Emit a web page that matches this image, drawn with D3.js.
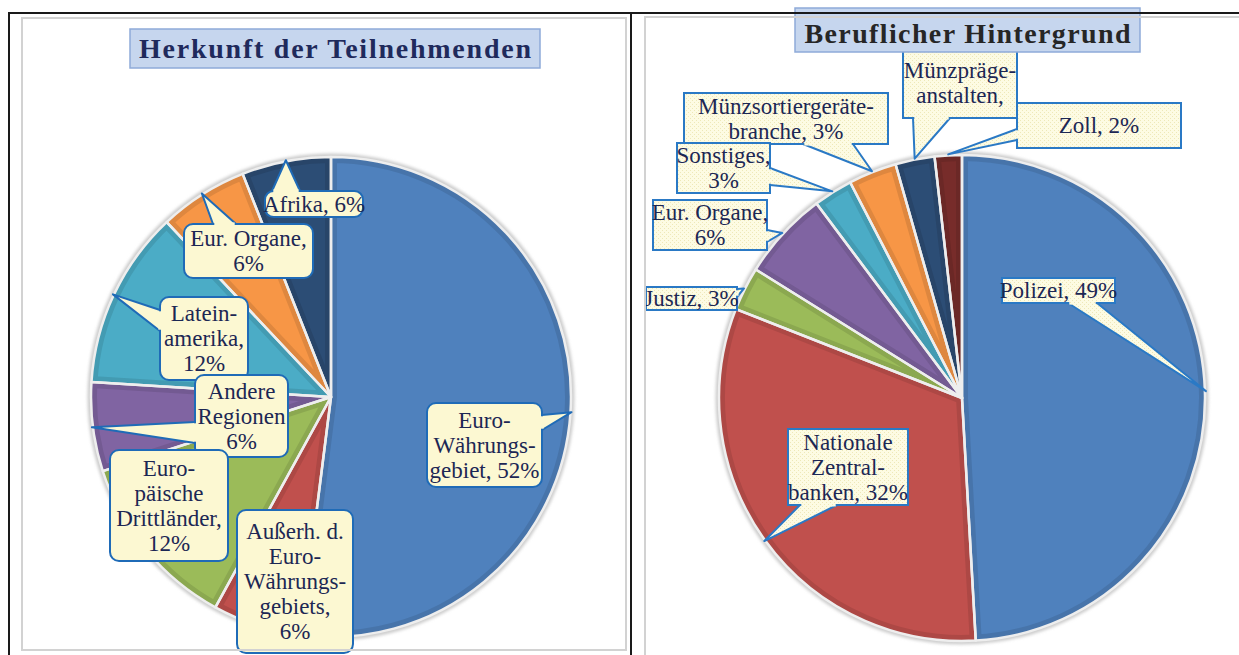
<!DOCTYPE html>
<html>
<head>
<meta charset="utf-8">
<script src="https://cdn.jsdelivr.net/npm/d3@7"></script>
<style>
html, body { margin: 0; padding: 0; background: #fff; }
svg { display: block; }
text { font-family: "Liberation Serif", "Times New Roman", serif; }
</style>
</head>
<body>
<div id="chart"></div>
<script>
// left chart: Herkunft der Teilnehmenden
const originCategories = ["Euro-Währungsgebiet", "Außerh. d. Euro-Währungsgebiets", "Europäische Drittländer",
    "Andere Regionen", "Lateinamerika", "Eur. Organe", "Afrika"];
const originValues = [52, 6, 12, 6, 12, 6, 6];
const originLabels = [
    ["Euro-", "Währungs-", "gebiet, 52%"],
    ["Außerh. d.", "Euro-", "Währungs-", "gebiets,", "6%"],
    ["Euro-", "päische", "Drittländer,", "12%"],
    ["Andere", "Regionen", "6%"],
    ["Latein-", "amerika,", "12%"],
    ["Eur. Organe,", "6%"],
    ["Afrika, 6%"]
];

// right chart: Beruflicher Hintergrund
const jobCategories = ["Polizei", "Nationale Zentralbanken", "Justiz", "Eur. Organe", "Sonstiges",
    "Münzsortiergerätebranche", "Münzprägeanstalten", "Zoll"];
const jobValues = [49, 31.8, 2.9, 5.9, 2.6, 3.2, 2.6, 1.8];
const jobLabels = [
    ["Polizei, 49%"],
    ["Nationale", "Zentral-", "banken, 32%"],
    ["Justiz, 3%"],
    ["Eur. Organe,", "6%"],
    ["Sonstiges,", "3%"],
    ["Münzsortiergeräte-", "branche, 3%"],
    ["Münzpräge-", "anstalten,"],
    ["Zoll, 2%"]
];

const sliceColors = ["#4f81bd", "#c0504d", "#9bbb59", "#8064a2", "#4bacc6", "#f79646", "#2c4d75", "#772c2a"];

// label boxes (x, y, w, h) and tails (side, from, to) - placed by hand like in the original
const originBoxes = [
    [427, 403, 115, 84], [237, 510, 116, 143], [110, 450, 118, 111], [195, 375, 93, 82],
    [160, 297, 88, 83], [184, 224, 129, 54], [265, 191, 98, 26]
];
const originTails = [["right", 12, 27], null, null, ["left", 47, 68], ["left", 13, 34], ["top", 29, 52], ["top", 7, 35]];

const jobBoxes = [
    [1002, 278, 113, 25], [788, 429, 120, 76], [646, 287, 91, 23], [653, 200, 114, 50],
    [677, 143, 93, 50], [684, 93, 204, 51], [903, 48, 114, 70], [1017, 103, 164, 45]
];
const jobTails = [["bottom", 66, 95], ["bottom", 12, 49], ["right", 2, 10], ["right", 30, 42],
    ["right", 25, 42], ["bottom", 119, 169], ["bottom", 10, 47], ["left", 26, 37]];

const width = 1239, height = 655;
const svg = d3.select("#chart").append("svg")
    .attr("width", width)
    .attr("height", height);
const defs = svg.append("defs");

// dotted fill of the right callouts
const dots = defs.append("pattern")
    .attr("id", "dots")
    .attr("width", 4).attr("height", 4)
    .attr("patternUnits", "userSpaceOnUse");
dots.append("rect").attr("width", 4).attr("height", 4).attr("fill", "#fdfbe3");
dots.append("rect").attr("width", 1).attr("height", 1).attr("fill", "#eee8b8");
dots.append("rect").attr("x", 2).attr("y", 2).attr("width", 1).attr("height", 1).attr("fill", "#eee8b8");

defs.append("filter").attr("id", "halo")
    .attr("x", "-10%").attr("y", "-10%").attr("width", "120%").attr("height", "120%")
    .append("feGaussianBlur").attr("stdDeviation", 1.8);

function drawPie(key, values, cx, cy, r) {
    const arcs = d3.pie().sort(null).value(d => d)(values);
    const arc = d3.arc().innerRadius(0).outerRadius(r);
    const g = svg.append("g").attr("transform", `translate(${cx},${cy})`);

    g.append("circle")
        .attr("r", r + 1)
        .attr("fill", "none")
        .attr("stroke", "#cdcdcd")
        .attr("stroke-width", 5)
        .attr("filter", "url(#halo)");

    arcs.forEach((d, i) => {
        defs.append("clipPath").attr("id", `${key}-clip-${i}`)
            .append("path").attr("d", arc(d));
    });

    // slices with a darker inner rim
    g.selectAll(".slice")
        .data(arcs)
        .join("path")
        .attr("class", "slice")
        .attr("d", arc)
        .attr("fill", (d, i) => sliceColors[i])
        .attr("stroke", (d, i) => d3.color(sliceColors[i]).darker(0.3))
        .attr("stroke-width", 12)
        .attr("clip-path", (d, i) => `url(#${key}-clip-${i})`);

    // light separators
    g.selectAll(".sep")
        .data(arcs)
        .join("path")
        .attr("class", "sep")
        .attr("d", arc)
        .attr("fill", "none")
        .attr("stroke", "#eeeeee")
        .attr("stroke-width", 2.5)
        .attr("stroke-linejoin", "round");

    // point on the rim in the middle of a slice
    return i => {
        const a = (arcs[i].startAngle + arcs[i].endAngle) / 2;
        return [cx + (r + 1) * Math.sin(a), cy - (r + 1) * Math.cos(a)];
    };
}

function drawCallout(layer, lines, box, tail, tip, rounded, fill, stroke) {
    const [x, y, w, h] = box;
    const c = layer.append("g");
    let b1, b2;
    if (tail) {
        const [side, a, b] = tail;
        if (side === "top") { b1 = [x + a, y]; b2 = [x + b, y]; }
        if (side === "bottom") { b1 = [x + a, y + h]; b2 = [x + b, y + h]; }
        if (side === "left") { b1 = [x, y + a]; b2 = [x, y + b]; }
        if (side === "right") { b1 = [x + w, y + a]; b2 = [x + w, y + b]; }
        c.append("path")
            .attr("d", `M${b1}L${tip}L${b2}`)
            .attr("fill", fill)
            .attr("stroke", stroke)
            .attr("stroke-width", 2)
            .attr("stroke-linejoin", "round");
    }
    c.append("rect")
        .attr("x", x).attr("y", y)
        .attr("width", w).attr("height", h)
        .attr("rx", rounded ? Math.min(9, h / 3) : 0)
        .attr("fill", fill)
        .attr("stroke", stroke)
        .attr("stroke-width", 2);
    if (tail) {
        // open the border where the tail joins the box
        const len = Math.hypot(b2[0] - b1[0], b2[1] - b1[1]);
        const ux = (b2[0] - b1[0]) / len, uy = (b2[1] - b1[1]) / len;
        c.append("path")
            .attr("d", `M${b1[0] + ux * 1.3},${b1[1] + uy * 1.3}L${b2[0] - ux * 1.3},${b2[1] - uy * 1.3}`)
            .attr("stroke", fill)
            .attr("stroke-width", 3.2);
    }
    const lh = 25;
    const mid = y + h / 2;
    lines.forEach((t, k) => {
        c.append("text")
            .attr("x", x + w / 2)
            .attr("y", mid + (k - (lines.length - 1) / 2) * lh + 7.5)
            .attr("text-anchor", "middle")
            .attr("font-size", 23)
            .attr("fill", "#1c2754")
            .text(t);
    });
}

// pies
const originTip = drawPie("origin", originValues, 331, 397, 240);
const jobTip = drawPie("job", jobValues, 962, 398, 243);

// callouts, drawn back to front
const labelLayer = svg.append("g");
d3.range(originValues.length).reverse().forEach(i => {
    drawCallout(labelLayer, originLabels[i], originBoxes[i], originTails[i], originTip(i), true, "#fcf8d2", "#1f6bb7");
});
d3.range(jobValues.length).reverse().forEach(i => {
    drawCallout(labelLayer, jobLabels[i], jobBoxes[i], jobTails[i], jobTip(i), false, "url(#dots)", "#2a79c5");
});

// titles
function drawTitle(text, box, textColor, textWidth, baseline) {
    const [x, y, w, h] = box;
    svg.append("rect")
        .attr("x", x).attr("y", y)
        .attr("width", w).attr("height", h)
        .attr("fill", "#c6d6ee")
        .attr("stroke", "#8eaad9")
        .attr("stroke-width", 1.5);
    svg.append("text")
        .attr("x", x + w / 2)
        .attr("y", baseline)
        .attr("text-anchor", "middle")
        .attr("font-size", 28)
        .attr("font-weight", "bold")
        .attr("fill", textColor)
        .attr("textLength", textWidth)
        .attr("lengthAdjust", "spacing")
        .text(text);
}
drawTitle("Herkunft der Teilnehmenden", [130, 29, 410, 39], "#1f2a5c", 392, 58);
drawTitle("Beruflicher Hintergrund", [795, 8, 345, 44], "#262626", 326, 43);

// page frame
svg.append("rect")
    .attr("x", 22).attr("y", 18).attr("width", 604).attr("height", 632)
    .attr("fill", "none").attr("stroke", "#d2d2d2").attr("stroke-width", 2);
svg.append("rect")
    .attr("x", 645).attr("y", 17).attr("width", 620).attr("height", 660)
    .attr("fill", "none").attr("stroke", "#d2d2d2").attr("stroke-width", 2);
svg.append("path")
    .attr("d", "M9,655V13H1239M631,13V655")
    .attr("fill", "none")
    .attr("stroke", "#1a1a1a")
    .attr("stroke-width", 2);
</script>
</body>
</html>
